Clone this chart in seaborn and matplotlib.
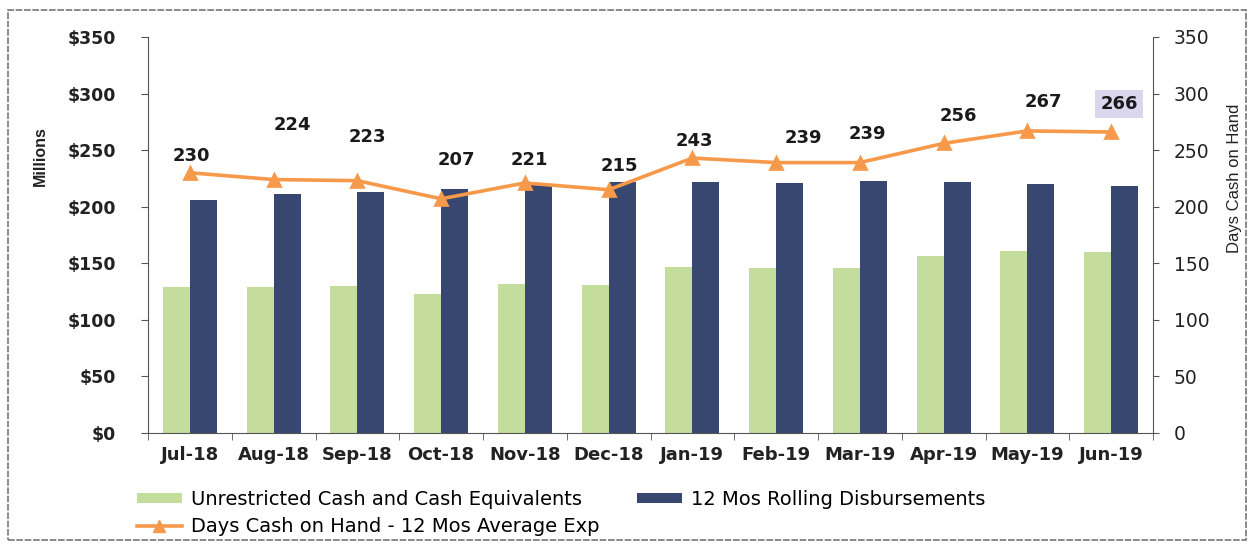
import numpy as np
import pandas as pd
import matplotlib
matplotlib.use("Agg")
import matplotlib.pyplot as plt
from matplotlib.patches import Patch, Rectangle
from matplotlib.lines import Line2D
import seaborn as sns

# ---- data ----
months = ["Jul-18", "Aug-18", "Sep-18", "Oct-18", "Nov-18", "Dec-18",
          "Jan-19", "Feb-19", "Mar-19", "Apr-19", "May-19", "Jun-19"]
unrestricted_cash = [129, 129, 130, 123, 132, 131, 147, 146, 146, 156, 161, 160]
rolling_disb = [206, 211, 213, 216, 219, 222, 222, 221, 223, 222, 220, 218]
days_cash = [230, 224, 223, 207, 221, 215, 243, 239, 239, 256, 267, 266]
left_ticks = [0, 50, 100, 150, 200, 250, 300, 350]
left_ticklabels = ["$0", "$50", "$100", "$150", "$200", "$250", "$300", "$350"]
right_ticks = [0, 50, 100, 150, 200, 250, 300, 350]
series_names = ["Unrestricted Cash and Cash Equivalents", "12 Mos Rolling Disbursements"]
line_name = "Days Cash on Hand - 12 Mos Average Exp"

# label offsets (pixels) for data labels
label_dx = [2, 19, 10, 15, 5, 11, 2, 27, 8, 15, 16, 8]
label_dy = [17, 55, 44, 39, 23, 24, 17, 25, 29, 27, 29, 28]

GREEN = "#c4dc9c"
NAVY = "#38476f"
ORANGE = "#f7994a"

df = pd.DataFrame({
    "Month": months * 2,
    "Series": [series_names[0]] * len(months) + [series_names[1]] * len(months),
    "Value": unrestricted_cash + rolling_disb,
})

W, H = 1251, 546
fig = plt.figure(figsize=(W / 100, H / 100), dpi=100)
plt.rcParams['font.family'] = ['DejaVu Sans']

ax = fig.add_axes([148 / W, (H - 437) / H, (1153 - 148) / W, (437 - 44) / H])
sns.barplot(data=df, x="Month", y="Value", hue="Series", order=months,
            hue_order=series_names, palette={series_names[0]: GREEN, series_names[1]: NAVY},
            width=0.645, saturation=1, ax=ax, legend=False)
ax.set_ylim(0, 350)
ax.set_xlim(-0.5, len(months) - 0.5)
ax.set_yticks(left_ticks)
ax.set_yticklabels(left_ticklabels, fontsize=12.5, fontweight="bold", color="#222")
ax.set_xticks(range(len(months)))
ax.set_xticklabels(months, fontsize=13, fontweight="bold", color="#222")
ax.set_xticks(np.arange(-0.5, len(months), 1), minor=True)
ax.tick_params(axis="x", which="major", length=0, pad=9)
ax.tick_params(axis="x", which="minor", length=5, color="#555", direction="out")
ax.tick_params(axis="y", length=5, color="#555", direction="out", pad=18)
ax.set_xlabel("")
ax.set_ylabel("")
for s in ["top", "right"]:
    ax.spines[s].set_visible(False)
ax.spines["left"].set_color("#555")
ax.spines["bottom"].set_color("#555")
ax.set_facecolor("none")

# secondary axis
ax2 = ax.twinx()
sns.pointplot(x=months, y=days_cash, order=months, ax=ax2, color=ORANGE, markers="^",
              markersize=9, linewidth=2.6, errorbar=None)
ax2.set_position([148 / W, (H - 433) / H, (1153 - 148) / W, (433 - 37) / H])
ax2.set_ylim(0, 350)
ax2.set_xlim(-0.5, len(months) - 0.5)
ax2.set_yticks(right_ticks)
ax2.set_yticklabels([str(t) for t in right_ticks], fontsize=13.5, color="#222")
ax2.tick_params(axis="y", length=4, color="#555", direction="out", pad=11)
for s in ["top", "left", "bottom"]:
    ax2.spines[s].set_visible(False)
ax2.spines["right"].set_color("#555")
ax2.set_ylabel("")
ax2.set_xlabel("")

for i, v in enumerate(days_cash):
    kw = {}
    if i == len(days_cash) - 1:
        kw["bbox"] = dict(boxstyle="square,pad=0.3", fc="#d9d6ee", ec="none")
    ax2.annotate(str(v), (i, v), xytext=(label_dx[i], label_dy[i]), textcoords="offset pixels",
                 ha="center", va="center", fontsize=13, fontweight="bold",
                 color="#1a1a1a", **kw)

fig.text(40 / W, 1 - 156 / H, "Millions", rotation=90, ha="center", va="center",
         fontsize=11.5, fontweight="bold", family="Liberation Sans", color="#222")
fig.text(1235 / W, 1 - 178 / H, "Days Cash on Hand", rotation=90, ha="center", va="center",
         fontsize=12, family="Liberation Sans", color="#222")

handles = [Patch(facecolor=GREEN, edgecolor="none"),
           Line2D([0], [0], color=ORANGE, lw=2.6, marker="^", markersize=9),
           Patch(facecolor=NAVY, edgecolor="none")]
labels = [series_names[0], line_name, series_names[1]]
fig.legend(handles, labels, ncol=2, loc="upper left", bbox_to_anchor=(137 / W, 1 - 490 / H),
           frameon=False, fontsize=14, handlelength=2.3, handleheight=0.35, handletextpad=0.5,
           columnspacing=1.9, labelspacing=0.4, borderaxespad=0, borderpad=0)

# outer frame
fig.patches.append(Rectangle((8 / W, 6 / H), (1246 - 8) / W, (536 - 6) / H, transform=fig.transFigure,
                             fill=False, edgecolor="#777", lw=1.2, ls=(0, (4, 1))))

fig.savefig("out.png", dpi=100)
